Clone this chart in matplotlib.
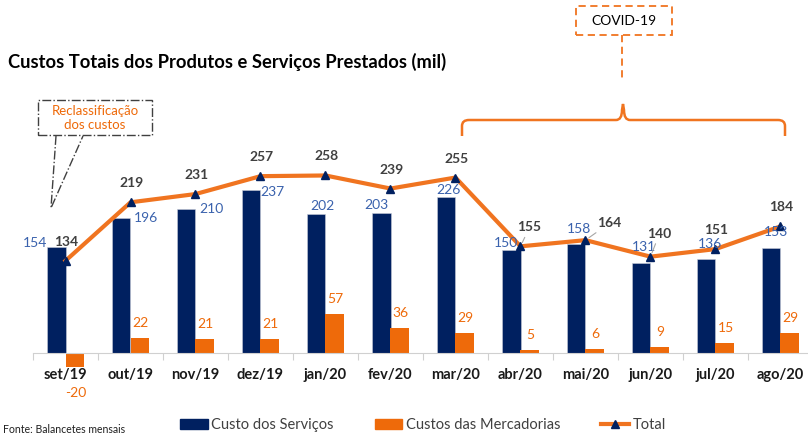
import matplotlib
matplotlib.use('Agg')
import matplotlib.pyplot as plt
from matplotlib.patches import Patch, Rectangle, PathPatch
from matplotlib.lines import Line2D
from matplotlib.path import Path

plt.rcParams['font.family'] = ['Lato', 'DejaVu Sans']

# dados (mil)
meses = ['set/19', 'out/19', 'nov/19', 'dez/19', 'jan/20', 'fev/20',
         'mar/20', 'abr/20', 'mai/20', 'jun/20', 'jul/20', 'ago/20']
servicos = [154, 196, 210, 237, 202, 203, 226, 150, 158, 131, 136, 153]
mercadorias = [-20, 22, 21, 21, 57, 36, 29, 5, 6, 9, 15, 29]
total = [134, 219, 231, 257, 258, 239, 255, 155, 164, 140, 151, 184]

# deslocamento dos rótulos (pixels)
desl_serv = [(-21, 4), (24, 0), (25, 0), (21, -2), (6, 8), (-5, 8),
             (2, 7), (-6, 7), (2, 15), (2, 16), (3, 15), (4, 16)]
desl_total = [(1, 19), (1, 19), (1, 19), (1, 19), (1, 19), (1, 19),
              (1, 19), (9, 19), (24, 17), (9, 23), (1, 19), (1, 19)]
linha_guia = [False] * 7 + [True, True, True, False, False]

AZUL = '#002060'
LARANJA = '#EE6A0A'
LINHA = '#F07420'
AZUL_TXT = '#3A62AD'
CINZA = '#404040'

W, H = 808, 436
fig = plt.figure(figsize=(W / 100, H / 100), dpi=100)


def px(x, y):
    # converte pixel da imagem em fração da figura
    return x / W, 1 - y / H


ax = fig.add_axes([33 / W, 0.1273, 780 / W, 0.5365])
x = list(range(len(meses)))
bw = 0.277
ax.bar([i - bw / 2 for i in x], servicos, bw, color=AZUL, edgecolor='#C8CCD8', linewidth=0.4, zorder=2)
ax.bar([i + bw / 2 for i in x], mercadorias, bw, color=LARANJA, zorder=2)
ax.plot(x, total, color=LINHA, lw=3, marker='^', markersize=6,
        markerfacecolor=AZUL, markeredgecolor=AZUL, zorder=3)

ax.set_xlim(-0.5, len(meses) - 0.5)
ax.set_ylim(-40, 300)
for s in ['top', 'left', 'right']:
    ax.spines[s].set_visible(False)
ax.spines['bottom'].set_position(('data', 0))
ax.spines['bottom'].set_color('#D0D0D0')
ax.set_yticks([])
ax.set_xticks([i - 0.5 for i in range(len(meses) + 1)])
ax.set_xticklabels([])
ax.tick_params(axis='x', length=5, color='#D0D0D0', direction='out')
for i, m in enumerate(meses):
    ax.annotate(m, (i, 0), xytext=(0, -22), textcoords='offset pixels',
                ha='center', va='center', fontsize=10.5, fontweight='bold', color='#1A1A1A')

# rótulos
for i in x:
    dx, dy = desl_serv[i]
    ax.annotate(str(servicos[i]), (i - bw / 2, servicos[i]), xytext=(dx, dy),
                textcoords='offset pixels', ha='center', va='center',
                fontsize=10, color=AZUL_TXT, zorder=4)
    v = mercadorias[i]
    ax.annotate(str(v), (i + bw / 2, v), xytext=(1, 15 if v > 0 else -26),
                textcoords='offset pixels', ha='center', va='center',
                fontsize=10, color=LARANJA, zorder=4)
    dx, dy = desl_total[i]
    props = None
    if linha_guia[i]:
        props = dict(arrowstyle='-', color='#A6A6A6', lw=0.8, shrinkA=1, shrinkB=3)
    ax.annotate(str(total[i]), (i, total[i]), xytext=(dx, dy),
                textcoords='offset pixels', ha='center', va='center',
                fontsize=10, fontweight='bold', color=CINZA, zorder=4,
                arrowprops=props)

# título
fig.text(*px(8, 62), 'Custos Totais dos Produtos e Serviços Prestados (mil)',
         fontsize=13.2, fontweight='bold', ha='left', va='center', color='#000000')

# caixa COVID-19
x0, y0 = px(576, 35)
x1, y1 = px(672, 6)
fig.patches.append(Rectangle((x0, y0), x1 - x0, y1 - y0, transform=fig.transFigure,
                             fill=False, edgecolor=LINHA, lw=1.3, linestyle=(0, (4, 2.5))))
fig.text(*px(624, 21), 'COVID-19', fontsize=10, ha='center', va='center', color='#000000')
fig.add_artist(Line2D(*zip(px(622, 35), px(622, 80)), transform=fig.transFigure,
                      color=LINHA, lw=1.3, linestyle=(0, (4, 2.5))))

# chave
pts = [(462, 136), (462, 126), (462, 120), (469, 120), (616, 120), (622, 120),
       (622, 110), (623, 104), (624, 110), (624, 120), (630, 120), (778, 120),
       (785, 120), (785, 126), (785, 136)]
codes = [Path.MOVETO, Path.LINETO, Path.CURVE3, Path.CURVE3, Path.LINETO, Path.CURVE3,
         Path.CURVE3, Path.LINETO, Path.LINETO, Path.CURVE3, Path.CURVE3, Path.LINETO,
         Path.CURVE3, Path.CURVE3, Path.LINETO]
fig.patches.append(PathPatch(Path([px(a, b) for a, b in pts], codes), transform=fig.transFigure,
                             fill=False, edgecolor=LINHA, lw=1.8))

# caixa Reclassificação
x0, y0 = px(38, 135)
x1, y1 = px(152, 100)
fig.patches.append(Rectangle((x0, y0), x1 - x0, y1 - y0, transform=fig.transFigure,
                             fill=False, edgecolor=CINZA, lw=1, linestyle='-.'))
fig.text(*px(95, 118), 'Reclassificação\ndos custos', fontsize=9.5, ha='center', va='center',
         color=LARANJA, linespacing=1.15)
fig.add_artist(Line2D(*zip(px(56, 136), px(51, 208), px(83, 136)), transform=fig.transFigure,
                      color=CINZA, lw=1, linestyle='-.'))

# legenda
handles = [Patch(color=AZUL), Patch(color=LARANJA),
           Line2D([], [], color=LINHA, lw=3, marker='^', markersize=6,
                  markerfacecolor=AZUL, markeredgecolor=AZUL)]
leg = fig.legend(handles, ['Custo dos Serviços', 'Custos das Mercadorias', 'Total'],
                 ncol=3, loc='center', bbox_to_anchor=px(423, 425), frameon=False,
                 fontsize=10.5, handlelength=1.9, handleheight=0.7, handletextpad=0.25,
                 columnspacing=2.8)
for t in leg.get_texts():
    t.set_color(CINZA)

fig.text(*px(3, 429), 'Fonte: Balancetes mensais', fontsize=7.6, ha='left', va='center', color='#202020')

fig.savefig('out.png', dpi=100)
